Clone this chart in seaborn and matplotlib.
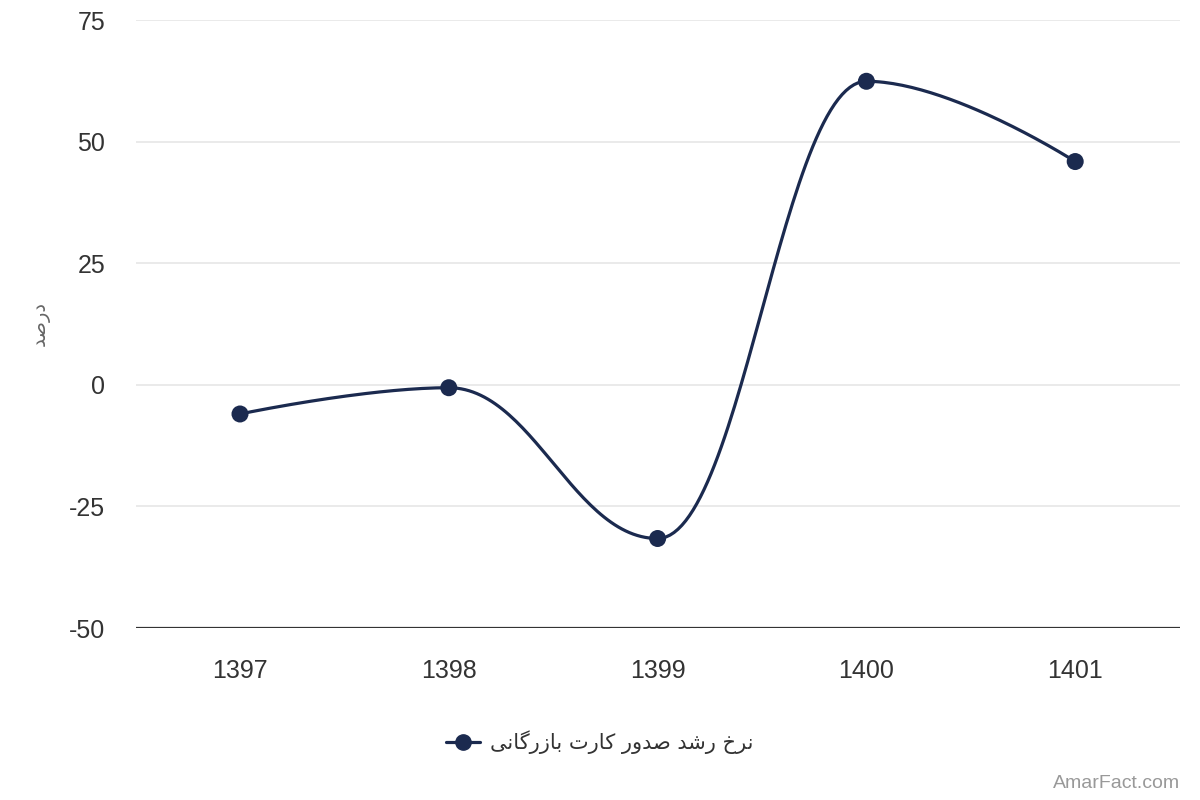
import numpy as np
import pandas as pd
import seaborn as sns
import matplotlib.pyplot as plt
from matplotlib.lines import Line2D

years = ["1397", "1398", "1399", "1400", "1401"]
growth = [-6.0, -0.6, -31.6, 62.4, 45.9]
y_ticks = [-50, -25, 0, 25, 50, 75]
series_name = "نرخ رشد صدور کارت بازرگانی"
y_title = "درصد"
credit = "AmarFact.com"

LINE_COLOR = "#1b2a4f"

# minimal Persian shaping: matplotlib has no complex text layout
FORMS = {
    "ا": ("\ufe8d", "\ufe8e", None, None),
    "ب": ("\ufe8f", "\ufe90", "\ufe91", "\ufe92"),
    "ت": ("\ufe95", "\ufe96", "\ufe97", "\ufe98"),
    "خ": ("\ufea5", "\ufea6", "\ufea7", "\ufea8"),
    "د": ("\ufea9", "\ufeaa", None, None),
    "ر": ("\ufead", "\ufeae", None, None),
    "ز": ("\ufeaf", "\ufeb0", None, None),
    "ش": ("\ufeb5", "\ufeb6", "\ufeb7", "\ufeb8"),
    "ص": ("\ufeb9", "\ufeba", "\ufebb", "\ufebc"),
    "ن": ("\ufee5", "\ufee6", "\ufee7", "\ufee8"),
    "و": ("\ufeed", "\ufeee", None, None),
    "ک": ("\ufb8e", "\ufb8f", "\ufb90", "\ufb91"),
    "گ": ("\ufb92", "\ufb93", "\ufb94", "\ufb95"),
    "ی": ("\ufbfc", "\ufbfd", "\ufbfe", "\ufbff"),
}


def shape(text):
    out = []
    for i, ch in enumerate(text):
        if ch not in FORMS:
            out.append(ch)
            continue
        prev = text[i - 1] if i > 0 else None
        nxt = text[i + 1] if i + 1 < len(text) else None
        joins_prev = prev in FORMS and FORMS[prev][2] is not None
        joins_next = nxt in FORMS and FORMS[ch][2] is not None
        iso, fin, ini, med = FORMS[ch]
        if joins_prev and joins_next:
            out.append(med)
        elif joins_prev:
            out.append(fin)
        elif joins_next:
            out.append(ini)
        else:
            out.append(iso)
    return "".join(out)[::-1]


def spline(xs, ys, smoothing=1.5, steps=60):
    # Highcharts style spline through the points
    n = len(xs)
    left = [(xs[i], ys[i]) for i in range(n)]
    right = [(xs[i], ys[i]) for i in range(n)]
    denom = smoothing + 1
    for i in range(1, n - 1):
        lx = (smoothing * xs[i] + xs[i - 1]) / denom
        ly = (smoothing * ys[i] + ys[i - 1]) / denom
        rx = (smoothing * xs[i] + xs[i + 1]) / denom
        ry = (smoothing * ys[i] + ys[i + 1]) / denom
        if rx != lx:
            corr = (ry - ly) * (rx - xs[i]) / (rx - lx) + ys[i] - ry
            ly += corr
            ry += corr
        if ly > ys[i - 1] and ly > ys[i]:
            ly = max(ys[i - 1], ys[i])
            ry = 2 * ys[i] - ly
        elif ly < ys[i - 1] and ly < ys[i]:
            ly = min(ys[i - 1], ys[i])
            ry = 2 * ys[i] - ly
        if ry > ys[i + 1] and ry > ys[i]:
            ry = max(ys[i + 1], ys[i])
            ly = 2 * ys[i] - ry
        elif ry < ys[i + 1] and ry < ys[i]:
            ry = min(ys[i + 1], ys[i])
            ly = 2 * ys[i] - ry
        left[i] = (lx, ly)
        right[i] = (rx, ry)
    px, py = [xs[0]], [ys[0]]
    t = np.linspace(0, 1, steps)[1:]
    for i in range(1, n):
        p0 = np.array([xs[i - 1], ys[i - 1]])
        p1 = np.array(right[i - 1])
        p2 = np.array(left[i])
        p3 = np.array([xs[i], ys[i]])
        pts = ((1 - t) ** 3)[:, None] * p0 + (3 * (1 - t) ** 2 * t)[:, None] * p1 \
            + (3 * (1 - t) * t ** 2)[:, None] * p2 + (t ** 3)[:, None] * p3
        px.extend(pts[:, 0])
        py.extend(pts[:, 1])
    return np.array(px), np.array(py)


df = pd.DataFrame({"year": years, "growth": growth})
df["pos"] = np.arange(len(df))

sns.set_theme(style="white")
plt.rcParams["font.family"] = ["Liberation Sans", "DejaVu Sans"]
plt.rcParams["axes.unicode_minus"] = False

fig, ax = plt.subplots(figsize=(12, 8), dpi=100)
fig.subplots_adjust(left=0.113, right=0.983, top=0.975, bottom=0.215)

cx, cy = spline(df["pos"].tolist(), df["growth"].tolist())
ax.plot(cx, cy, color=LINE_COLOR, lw=2.3, zorder=3, solid_capstyle="round")
sns.scatterplot(data=df, x="pos", y="growth", ax=ax, color=LINE_COLOR,
                s=150, edgecolor="none", zorder=4, legend=False)

ax.set_xlim(-0.5, len(years) - 0.5)
ax.set_ylim(-50, 75)
ax.set_xticks(df["pos"])
ax.set_xticklabels(years)
ax.set_yticks(y_ticks)
ax.tick_params(axis="both", length=0, labelsize=18, colors="#333333")
ax.tick_params(axis="x", pad=22)
ax.tick_params(axis="y", pad=22)

for v in y_ticks[1:]:
    ax.axhline(v, color="#e6e6e6", lw=1.2, zorder=1)
ax.axhline(-50, color="#333333", lw=1.6, zorder=2)
for s in ax.spines.values():
    s.set_visible(False)

ax.set_xlabel("")
ax.set_ylabel(shape(y_title), fontsize=14, color="#666666",
              family=["DejaVu Sans"])
ax.yaxis.set_label_coords(-0.082, 0.5)

handle = Line2D([0], [0], color=LINE_COLOR, lw=2.3, marker="o", markersize=11)
fig.legend([handle], [shape(series_name)], loc="center", bbox_to_anchor=(0.5, 0.072),
           frameon=False, handlelength=1.6, handletextpad=0.5,
           labelcolor="#333333", prop={"family": ["DejaVu Sans"], "size": 15})

fig.text(0.983, 0.021, credit, ha="right", va="center", fontsize=14, color="#999999")

fig.savefig("out.png", dpi=100)
